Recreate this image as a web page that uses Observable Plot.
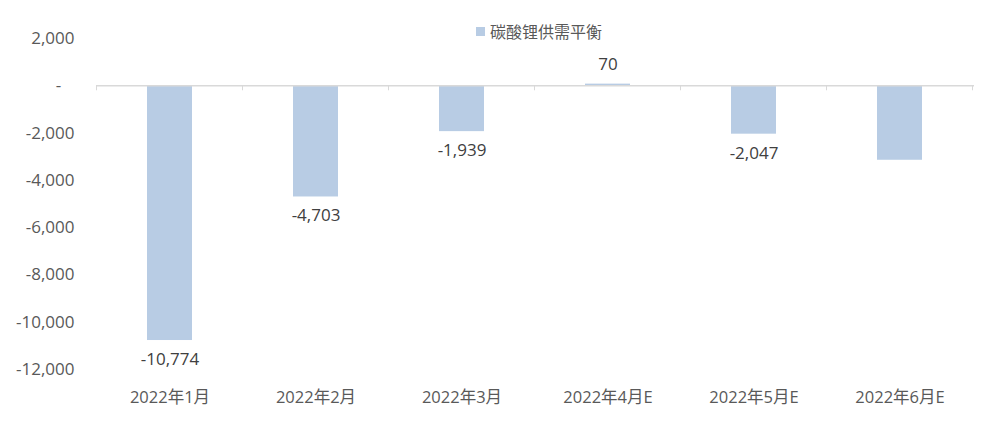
<!DOCTYPE html>
<html>
<head>
<meta charset="utf-8">
<script src="https://cdn.jsdelivr.net/npm/d3@7"></script>
<script src="https://cdn.jsdelivr.net/npm/@observablehq/plot@0.6"></script>
<style>
  html, body { margin: 0; padding: 0; background: #fff; }
  #wrap { position: relative; width: 984px; height: 421px; font-family: "Open Sans", "Noto Sans CJK SC", sans-serif; }
  #legend { position: absolute; top: 19px; left: 476px; font-size: 16px; color: #595959; display: flex; align-items: center; white-space: nowrap; font-family: "Noto Sans CJK SC", sans-serif; }
  #legend .sw { width: 9px; height: 9px; background: #b8cce4; margin-right: 5px; }
</style>
</head>
<body>
<div id="wrap">
  <div id="chart"></div>
  <div id="legend"><span class="sw"></span><span>碳酸锂供需平衡</span></div>
</div>
<script>
const categories = ["2022年1月", "2022年2月", "2022年3月", "2022年4月E", "2022年5月E", "2022年6月E"];
const values = [-10774, -4703, -1939, 70, -2047, -3150];
const showLabel = [true, true, true, true, true, false];
const yTicks = [2000, 0, -2000, -4000, -6000, -8000, -10000, -12000];

const data = categories.map((c, i) => ({cat: c, v: values[i], show: showLabel[i]}));
const comma = d3.format(",");
const fmt = d => (d < 0 ? "-" : "") + comma(Math.abs(d));
const barColor = "#b8cce4";
const fontStack = "'Open Sans', 'Noto Sans CJK SC', sans-serif";

const boundaryTicks = (index, scales, values, dimensions) => {
  const g = d3.create("svg:g");
  const x = scales.x, y = scales.y;
  const step = x(categories[1]) - x(categories[0]);
  const gap = (step - x.bandwidth()) / 2;
  const y0 = y(0);
  const xs = categories.map(c => x(c) - gap);
  xs.push(x(categories[categories.length - 1]) + x.bandwidth() + gap);
  for (const px of xs) {
    g.append("line").attr("x1", px).attr("x2", px).attr("y1", y0).attr("y2", y0 + 5)
      .attr("stroke", "#d9d9d9").attr("stroke-width", 1);
  }
  return g.node();
};

const chart = Plot.plot({
  width: 984,
  height: 421,
  marginTop: 38,
  marginBottom: 52,
  marginLeft: 96,
  marginRight: 10,
  style: {fontFamily: fontStack, fontSize: "17px", color: "#595959", background: "#fff"},
  x: {domain: categories, paddingInner: 0.69, paddingOuter: 0.345, label: null},
  y: {domain: [-12000, 2000], label: null},
  marks: [
    Plot.axisY({ticks: yTicks, tickSize: 0, tickPadding: 22, tickFormat: d => d === 0 ? "-\u00a0\u00a0\u00a0" : fmt(d), fill: "#595959", fontSize: 17}),
    Plot.axisX({tickSize: 0, tickPadding: 22, fill: "#595959", fontSize: 16.5}),
    Plot.barY(data, {x: "cat", y: "v", fill: barColor}),
    Plot.ruleY([0], {stroke: "#d9d9d9", strokeWidth: 1.5}),
    boundaryTicks,
    Plot.text(data.filter(d => d.show && d.v < 0), {
      x: "cat", y: "v", text: d => fmt(d.v), dy: 19,
      fill: "#404040", fontSize: 17
    }),
    Plot.text(data.filter(d => d.show && d.v >= 0), {
      x: "cat", y: "v", text: d => fmt(d.v), dy: -20,
      fill: "#404040", fontSize: 17
    })
  ]
});
document.getElementById("chart").appendChild(chart);
</script>
</body>
</html>
